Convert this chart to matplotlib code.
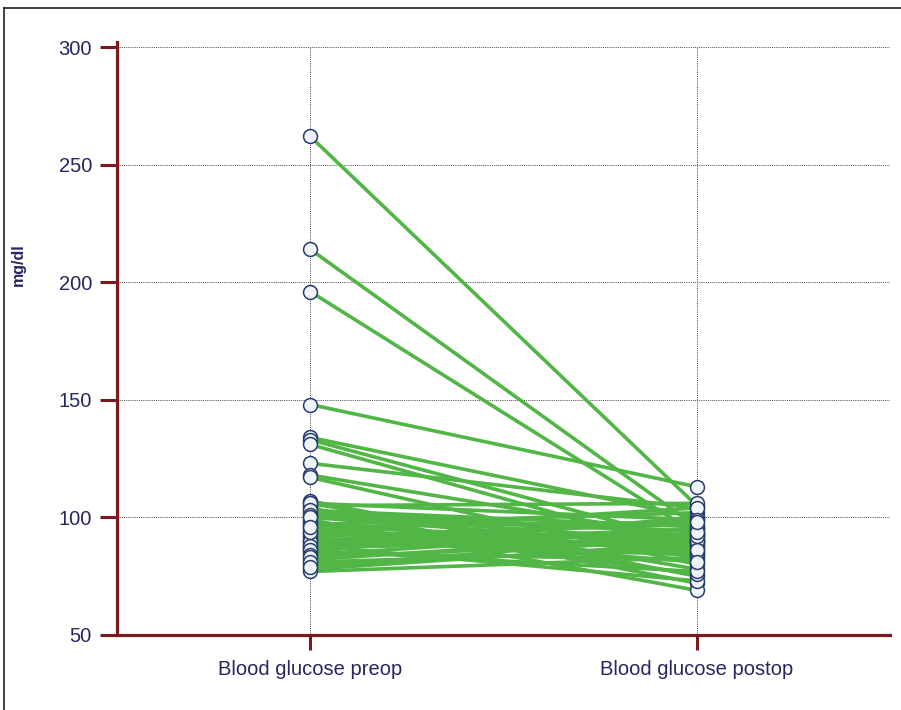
import matplotlib
matplotlib.use("Agg")
import matplotlib.pyplot as plt
from matplotlib.lines import Line2D

categories = ["Blood glucose preop", "Blood glucose postop"]
preop = [262, 214, 196, 148, 134, 133, 131, 123, 118, 117, 107, 106, 105, 104,
         102, 100, 99, 97, 96, 95, 93, 92, 90, 89, 88, 87, 86, 85, 82, 80, 78, 77,
         106, 103, 101, 98, 97, 94, 91, 90, 88, 86, 84, 83, 81, 79, 94, 100, 96]
postop = [105, 96, 93, 113, 100, 89, 85, 104, 91, 80, 75, 99, 106, 72,
          94, 88, 69, 102, 90, 86, 92, 97, 84, 95, 73, 91, 100, 82, 93, 87, 89, 83,
          78, 96, 90, 85, 76, 104, 88, 99, 93, 77, 95, 90, 86, 92, 81, 94, 98]
yticks = [50, 100, 150, 200, 250, 300]
ylabel = "mg/dl"

plt.rcParams['font.family'] = ['Liberation Sans', 'DejaVu Sans']

fig = plt.figure(figsize=(9.01, 7.10), dpi=100)
ax = fig.add_axes([117/901, 1-635/710, (890-117)/901, (635-47)/710])

axis_col = '#7a1a1f'
text_col = '#262660'
green = '#52b646'

for a, b in zip(preop, postop):
    ax.plot([0, 1], [a, b], color=green, lw=2.6, zorder=2, solid_capstyle='round')
for a, b in zip(preop, postop):
    ax.plot([0, 1], [a, b], ls='none', marker='o', ms=10, mfc='#eef6fb',
            mec='#283a6e', mew=1.1, zorder=3)

ax.set_xlim(-0.5, 1.5)
ax.set_ylim(50, 300)
ax.set_xticks([0, 1])
ax.set_xticklabels(categories)
ax.set_yticks(yticks)

ax.grid(True, ls=(0, (1, 1.2)), color='#444444', lw=0.7, zorder=0)
ax.set_axisbelow(True)

for s in ['top', 'right']:
    ax.spines[s].set_visible(False)
for s in ['left', 'bottom']:
    ax.spines[s].set_color(axis_col)
    ax.spines[s].set_linewidth(2.3)
ax.spines['left'].set_bounds(50, 302)

ax.tick_params(axis='y', direction='out', length=12, width=2.2, color=axis_col,
               labelcolor=text_col, labelsize=14.5, pad=6)
ax.tick_params(axis='x', direction='out', length=11, width=2.2, color=axis_col,
               labelcolor=text_col, labelsize=14.5, pad=7)

fig.text(18/901, 1-265/710, ylabel, rotation=90, ha='center', va='center',
         color=text_col, fontsize=11.5, fontweight='bold')

# outer frame
fig.add_artist(Line2D([3.5/901, 3.5/901], [0, 1-8/710], transform=fig.transFigure,
                      color='#222222', lw=1.2))
fig.add_artist(Line2D([3.5/901, 1], [1-8/710, 1-8/710], transform=fig.transFigure,
                      color='#222222', lw=1.2))

fig.savefig("out.png", dpi=100)
